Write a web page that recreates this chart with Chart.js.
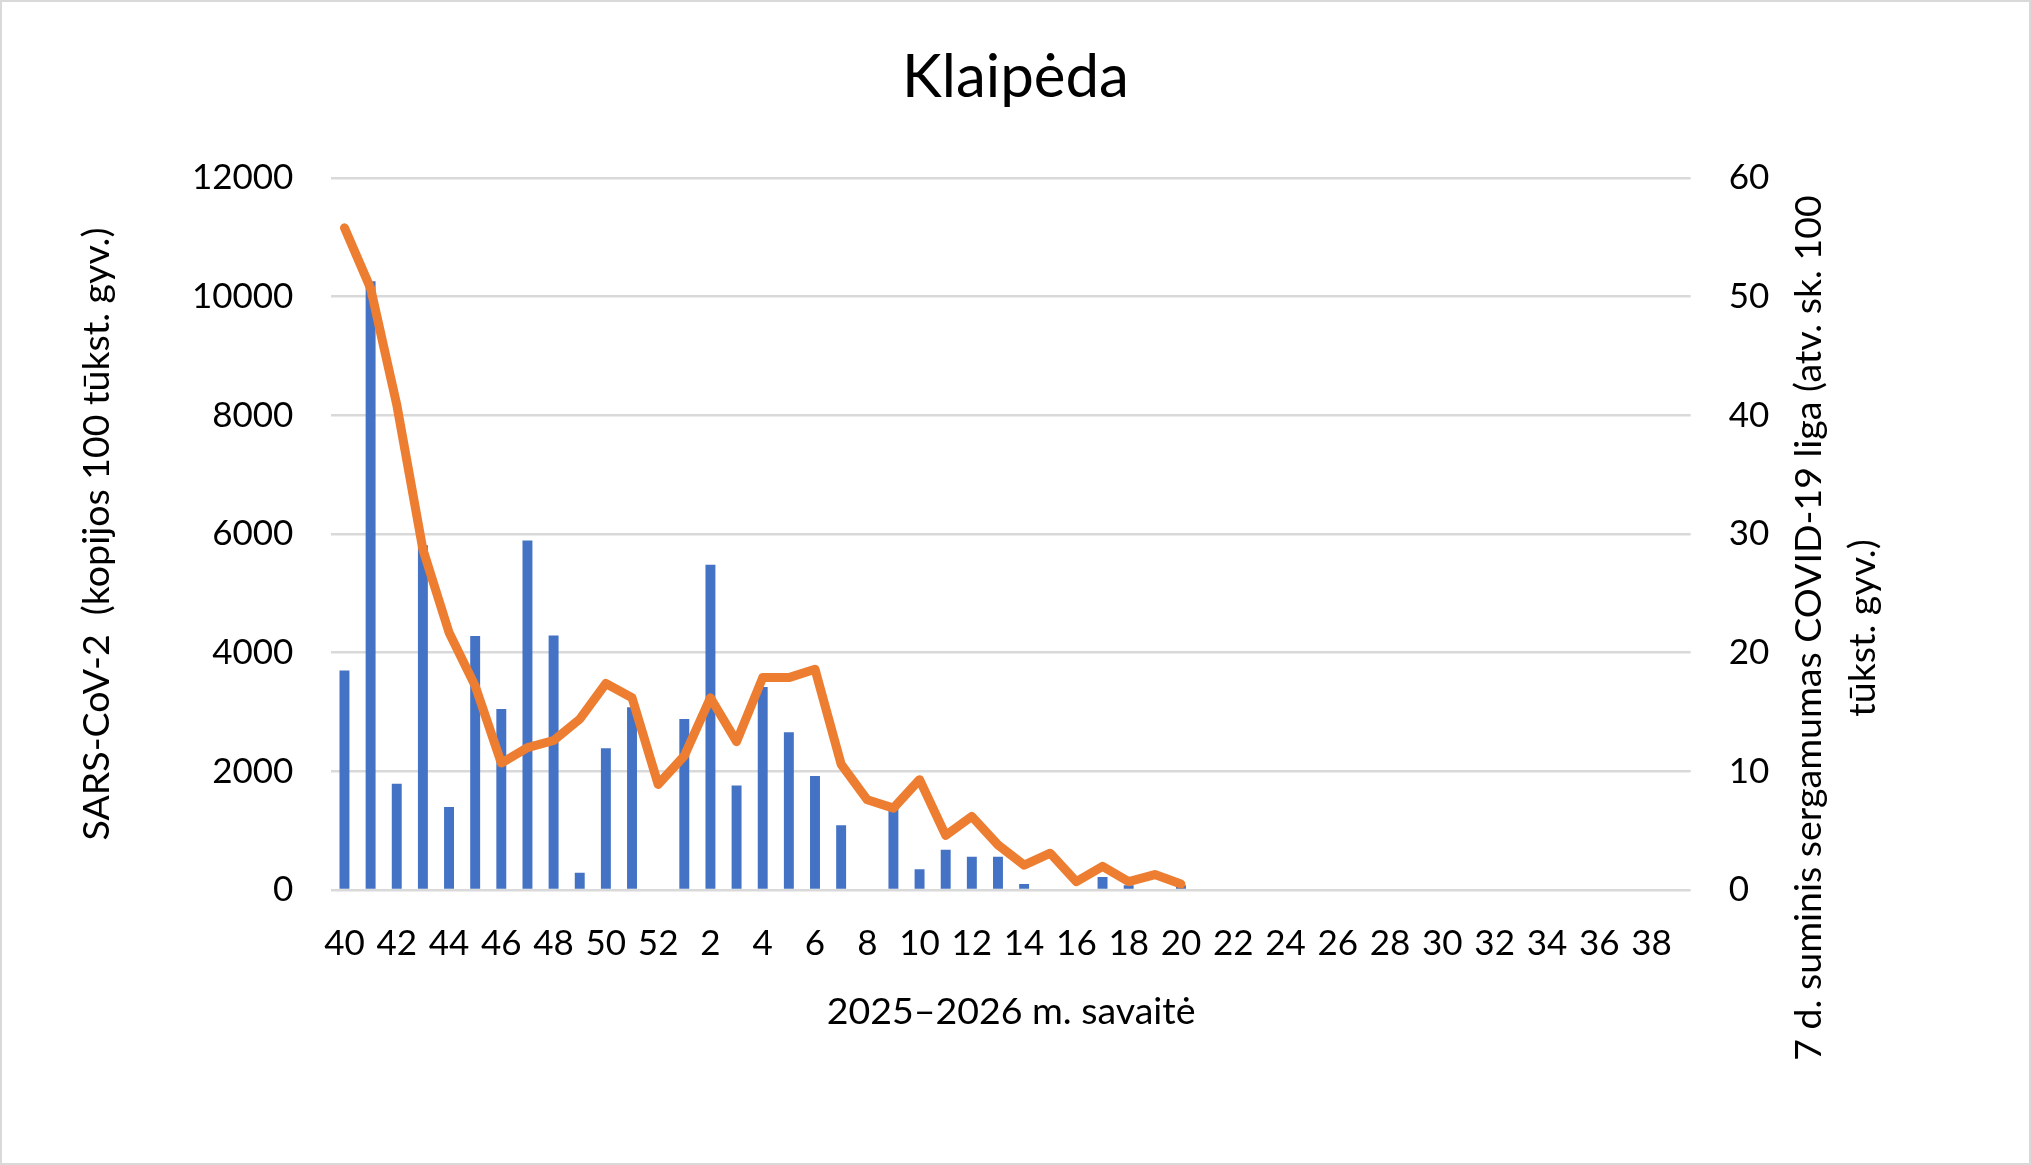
<!DOCTYPE html>
<html>
<head>
<meta charset="utf-8">
<script src="https://cdn.jsdelivr.net/npm/chart.js@4.4.1/dist/chart.umd.min.js"></script>
<style>
html, body { margin: 0; padding: 0; background: #fff; }
#wrap {
    width: 2031px;
    height: 1165px;
    box-sizing: border-box;
    border: 2px solid #d9d9d9;
    position: relative;
}
</style>
</head>
<body>
<div id="wrap"><canvas id="chart"></canvas></div>
<script>
// weeks of the 2025-2026 season
const weeks = [
    40, 41, 42, 43, 44, 45, 46, 47, 48, 49, 50, 51, 52,
    1, 2, 3, 4, 5, 6, 7, 8, 9, 10, 11, 12, 13, 14, 15, 16, 17, 18, 19, 20,
    21, 22, 23, 24, 25, 26, 27, 28, 29, 30, 31, 32, 33, 34, 35, 36, 37, 38, 39
];

// SARS-CoV-2 copies per 100k (bars, left axis)
const sarsCov2 = [
    3700, 10260, 1790, 5810, 1400, 4280, 3050, 5890, 4290, 290, 2390, 3080, 0,
    2880, 5480, 1760, 3420, 2660, 1920, 1090, 0, 1400, 350, 680, 560, 560, 100, 0, 0, 220, 80, 0, 80
];

// 7 day COVID-19 incidence per 100k (line, right axis)
const incidence = [
    55.8, 50.7, 40.9, 28.7, 21.7, 17.2, 10.7, 12.0, 12.6, 14.4, 17.4, 16.2, 8.9,
    11.3, 16.2, 12.5, 17.9, 17.9, 18.6, 10.6, 7.6, 6.9, 9.3, 4.6, 6.2, 3.8, 2.1, 3.1, 0.7, 2.0, 0.7, 1.3, 0.5
];

const leftTicks = [0, 2000, 4000, 6000, 8000, 10000, 12000];
const rightTicks = [0, 10, 20, 30, 40, 50, 60];

const rightTitleLines = [
    "7 d. suminis sergamumas COVID-19 liga (atv. sk. 100",
    "tūkst. gyv.)"
];

const FONT = "Lato, 'Open Sans', sans-serif";

// right axis title reads bottom-to-top, so draw it by hand
const rightTitle = {
    id: "rightTitle",
    afterDraw(chart) {
        let ctx = chart.ctx;
        let s = chart.scales.y2;
        let cy = (chart.chartArea.top + chart.chartArea.bottom) / 2 + 94;
        ctx.save();
        ctx.font = "37.5px " + FONT;
        ctx.fillStyle = "#000";
        ctx.textAlign = "center";
        ctx.textBaseline = "middle";
        ctx.translate(s.right - 220, cy);
        ctx.rotate(-Math.PI / 2);
        rightTitleLines.forEach((line, i) => {
            ctx.fillText(line, 0, i * 54);
        });
        ctx.restore();
    }
};

new Chart(document.getElementById("chart"), {
    data: {
        labels: weeks,
        datasets: [
            {
                type: "line",
                label: "7 d. suminis sergamumas",
                data: incidence,
                yAxisID: "y2",
                borderColor: "#ED7D31",
                borderWidth: 9,
                borderCapStyle: "round",
                borderJoinStyle: "round",
                pointRadius: 0,
                tension: 0,
                order: 0
            },
            {
                type: "bar",
                label: "SARS-CoV-2",
                data: sarsCov2,
                yAxisID: "y",
                backgroundColor: "#4472C4",
                categoryPercentage: 1,
                barPercentage: 0.38,
                order: 1
            }
        ]
    },
    options: {
        responsive: true,
        maintainAspectRatio: false,
        animation: false,
        layout: { padding: { left: 0, right: 0, top: 0, bottom: 0 } },
        plugins: {
            legend: { display: false },
            tooltip: { enabled: false },
            title: {
                display: true,
                text: "Klaipėda",
                color: "#000",
                font: { family: FONT, size: 60, weight: "normal" },
                padding: { top: 40, bottom: 64 }
            }
        },
        scales: {
            x: {
                grid: { display: false, drawTicks: false },
                border: { display: false },
                ticks: {
                    autoSkip: false,
                    maxRotation: 0,
                    padding: 33,
                    color: "#000",
                    font: { family: FONT, size: 35 },
                    callback: function(v, i) {
                        return i % 2 === 0 ? weeks[i] : "";
                    }
                },
                title: {
                    display: true,
                    text: "2025–2026 m. savaitė",
                    color: "#000",
                    font: { family: FONT, size: 37.5 },
                    padding: { top: 0, bottom: 129 }
                },
                afterFit: function(s) { s.height = 273; }
            },
            y: {
                position: "left",
                min: 0,
                max: 12000,
                afterBuildTicks: function(s) {
                    s.ticks = leftTicks.map(v => ({ value: v }));
                },
                grid: { color: "#d9d9d9", lineWidth: 2.5, drawTicks: false },
                border: { display: false },
                ticks: {
                    padding: 38,
                    color: "#000",
                    font: { family: FONT, size: 35 },
                    callback: function(v) { return String(v); }
                },
                title: {
                    display: true,
                    text: "SARS-CoV-2  (kopijos 100 tūkst. gyv.)",
                    color: "#000",
                    font: { family: FONT, size: 37.5 },
                    padding: { top: 72, bottom: 0 }
                },
                afterFit: function(s) { s.width = 329.4; }
            },
            y2: {
                position: "right",
                min: 0,
                max: 60,
                afterBuildTicks: function(s) {
                    s.ticks = rightTicks.map(v => ({ value: v }));
                },
                grid: { display: false, drawTicks: false },
                border: { display: false },
                ticks: {
                    padding: 38,
                    color: "#000",
                    font: { family: FONT, size: 35 },
                    callback: function(v) { return String(v); }
                },
                afterFit: function(s) { s.width = 338.3; }
            }
        }
    },
    plugins: [rightTitle]
});
</script>
</body>
</html>
